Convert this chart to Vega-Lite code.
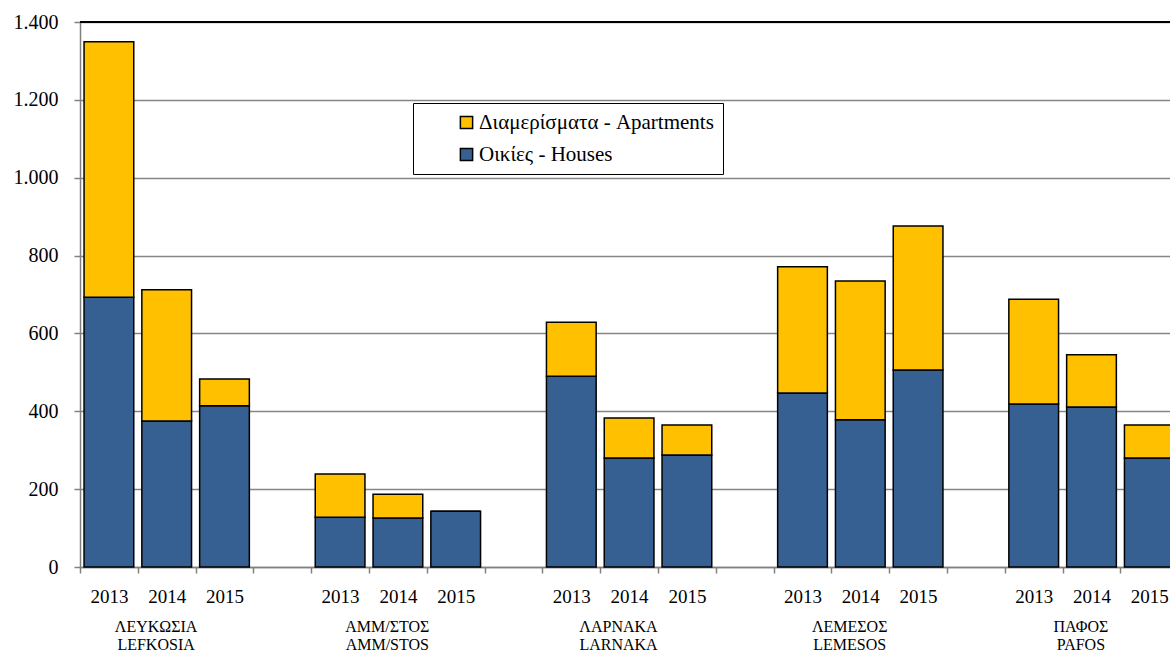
{
  "$schema": "https://vega.github.io/schema/vega-lite/v6.json",
  "autosize": {"type": "none"},
  "width": 1090,
  "height": 545,
  "padding": {"left": 80, "top": 22, "right": 0, "bottom": 83},
  "background": "white",
  "config": {
    "view": {"stroke": null},
    "font": "Liberation Serif"
  },
  "data": {
    "values": [
      {"slot": "LEF|2013", "district": "ΛΕΥΚΩΣΙΑ|LEFKOSIA", "type": "Οικίες - Houses", "ord": 1, "value": 693},
      {"slot": "LEF|2013", "district": "ΛΕΥΚΩΣΙΑ|LEFKOSIA", "type": "Διαμερίσματα - Apartments", "ord": 2, "value": 656},
      {"slot": "LEF|2014", "district": "ΛΕΥΚΩΣΙΑ|LEFKOSIA", "type": "Οικίες - Houses", "ord": 1, "value": 375},
      {"slot": "LEF|2014", "district": "ΛΕΥΚΩΣΙΑ|LEFKOSIA", "type": "Διαμερίσματα - Apartments", "ord": 2, "value": 337},
      {"slot": "LEF|2015", "district": "ΛΕΥΚΩΣΙΑ|LEFKOSIA", "type": "Οικίες - Houses", "ord": 1, "value": 414},
      {"slot": "LEF|2015", "district": "ΛΕΥΚΩΣΙΑ|LEFKOSIA", "type": "Διαμερίσματα - Apartments", "ord": 2, "value": 69},
      {"slot": "AMM|2013", "district": "ΑΜΜ/ΣΤΟΣ|AMM/STOS", "type": "Οικίες - Houses", "ord": 1, "value": 128},
      {"slot": "AMM|2013", "district": "ΑΜΜ/ΣΤΟΣ|AMM/STOS", "type": "Διαμερίσματα - Apartments", "ord": 2, "value": 111},
      {"slot": "AMM|2014", "district": "ΑΜΜ/ΣΤΟΣ|AMM/STOS", "type": "Οικίες - Houses", "ord": 1, "value": 126},
      {"slot": "AMM|2014", "district": "ΑΜΜ/ΣΤΟΣ|AMM/STOS", "type": "Διαμερίσματα - Apartments", "ord": 2, "value": 61},
      {"slot": "AMM|2015", "district": "ΑΜΜ/ΣΤΟΣ|AMM/STOS", "type": "Οικίες - Houses", "ord": 1, "value": 143},
      {"slot": "AMM|2015", "district": "ΑΜΜ/ΣΤΟΣ|AMM/STOS", "type": "Διαμερίσματα - Apartments", "ord": 2, "value": 0},
      {"slot": "LAR|2013", "district": "ΛΑΡΝΑΚΑ|LARNAKA", "type": "Οικίες - Houses", "ord": 1, "value": 490},
      {"slot": "LAR|2013", "district": "ΛΑΡΝΑΚΑ|LARNAKA", "type": "Διαμερίσματα - Apartments", "ord": 2, "value": 139},
      {"slot": "LAR|2014", "district": "ΛΑΡΝΑΚΑ|LARNAKA", "type": "Οικίες - Houses", "ord": 1, "value": 280},
      {"slot": "LAR|2014", "district": "ΛΑΡΝΑΚΑ|LARNAKA", "type": "Διαμερίσματα - Apartments", "ord": 2, "value": 103},
      {"slot": "LAR|2015", "district": "ΛΑΡΝΑΚΑ|LARNAKA", "type": "Οικίες - Houses", "ord": 1, "value": 288},
      {"slot": "LAR|2015", "district": "ΛΑΡΝΑΚΑ|LARNAKA", "type": "Διαμερίσματα - Apartments", "ord": 2, "value": 77},
      {"slot": "LEM|2013", "district": "ΛΕΜΕΣΟΣ|LEMESOS", "type": "Οικίες - Houses", "ord": 1, "value": 447},
      {"slot": "LEM|2013", "district": "ΛΕΜΕΣΟΣ|LEMESOS", "type": "Διαμερίσματα - Apartments", "ord": 2, "value": 324},
      {"slot": "LEM|2014", "district": "ΛΕΜΕΣΟΣ|LEMESOS", "type": "Οικίες - Houses", "ord": 1, "value": 378},
      {"slot": "LEM|2014", "district": "ΛΕΜΕΣΟΣ|LEMESOS", "type": "Διαμερίσματα - Apartments", "ord": 2, "value": 357},
      {"slot": "LEM|2015", "district": "ΛΕΜΕΣΟΣ|LEMESOS", "type": "Οικίες - Houses", "ord": 1, "value": 506},
      {"slot": "LEM|2015", "district": "ΛΕΜΕΣΟΣ|LEMESOS", "type": "Διαμερίσματα - Apartments", "ord": 2, "value": 370},
      {"slot": "PAF|2013", "district": "ΠΑΦΟΣ|PAFOS", "type": "Οικίες - Houses", "ord": 1, "value": 419},
      {"slot": "PAF|2013", "district": "ΠΑΦΟΣ|PAFOS", "type": "Διαμερίσματα - Apartments", "ord": 2, "value": 269},
      {"slot": "PAF|2014", "district": "ΠΑΦΟΣ|PAFOS", "type": "Οικίες - Houses", "ord": 1, "value": 411},
      {"slot": "PAF|2014", "district": "ΠΑΦΟΣ|PAFOS", "type": "Διαμερίσματα - Apartments", "ord": 2, "value": 134},
      {"slot": "PAF|2015", "district": "ΠΑΦΟΣ|PAFOS", "type": "Οικίες - Houses", "ord": 1, "value": 280},
      {"slot": "PAF|2015", "district": "ΠΑΦΟΣ|PAFOS", "type": "Διαμερίσματα - Apartments", "ord": 2, "value": 85}
    ]
  },
  "layer": [
    {
      "mark": {"type": "bar", "stroke": "black", "strokeWidth": 1.5},
      "encoding": {
        "x": {
          "field": "slot",
          "type": "nominal",
          "sort": null,
          "scale": {
            "domain": ["LEF|2013", "LEF|2014", "LEF|2015", "gap1", "AMM|2013", "AMM|2014", "AMM|2015", "gap2", "LAR|2013", "LAR|2014", "LAR|2015", "gap3", "LEM|2013", "LEM|2014", "LEM|2015", "gap4", "PAF|2013", "PAF|2014", "PAF|2015", "gap5"],
            "range": [0, 1156],
            "paddingInner": 0.14,
            "paddingOuter": 0.07
          },
          "axis": {
            "title": null,
            "labelExpr": "indexof(datum.value, 'gap') >= 0 ? '' : split(datum.value, '|')[1]",
            "labelAngle": 0,
            "labelFont": "Liberation Serif",
            "labelFontSize": 19,
            "labelColor": "black",
            "labelPadding": 14,
            "labelOffset": 29,
            "tickSize": 6,
            "tickColor": "#808080",
            "tickWidth": 1.5,
            "tickOffset": -29,
            "domainColor": "#808080",
            "domainWidth": 1.5,
            "grid": false
          }
        },
        "y": {
          "field": "value",
          "type": "quantitative",
          "stack": "zero",
          "scale": {"domain": [0, 1400]},
          "axis": {
            "title": null,
            "values": [0, 200, 400, 600, 800, 1000, 1200, 1400],
            "labelExpr": "replace(format(datum.value, ','), ',', '.')",
            "labelFont": "Liberation Serif",
            "labelFontSize": 20,
            "labelColor": "black",
            "labelPadding": 16,
            "tickSize": 6,
            "tickColor": "#808080",
            "tickWidth": 1.5,
            "domainColor": "#808080",
            "domainWidth": 1.5,
            "grid": true,
            "gridColor": "#868686",
            "gridWidth": 1.5
          }
        },
        "color": {
          "field": "type",
          "type": "nominal",
          "scale": {
            "domain": ["Διαμερίσματα - Apartments", "Οικίες - Houses"],
            "range": ["#FFC000", "#376092"]
          },
          "legend": {
            "title": null,
            "orient": "none",
            "legendX": 333,
            "legendY": 81,
            "fillColor": "white",
            "strokeColor": "black",
            "padding": 9,
            "symbolOffset": 34,
            "symbolType": "square",
            "symbolSize": 150,
            "symbolStrokeColor": "black",
            "symbolStrokeWidth": 1.5,
            "symbolOpacity": 1,
            "labelFont": "Liberation Serif",
            "labelExpr": "datum.label + '\u00a0\u00a0\u00a0\u00a0\u00a0'",
            "labelFontSize": 21,
            "labelColor": "black",
            "labelOffset": 2,
            "rowPadding": 10,
            "labelLimit": 400
          }
        },
        "order": {"field": "ord", "type": "quantitative", "sort": "ascending"}
      }
    },
    {
      "mark": {"type": "rule", "color": "black", "strokeWidth": 2},
      "encoding": {"y": {"datum": 1400, "type": "quantitative"}}
    },
    {
      "mark": {"type": "point", "opacity": 0},
      "encoding": {
        "x": {
          "field": "district",
          "type": "nominal",
          "sort": null,
          "scale": {
            "domain": ["ΛΕΥΚΩΣΙΑ|LEFKOSIA", "ΑΜΜ/ΣΤΟΣ|AMM/STOS", "ΛΑΡΝΑΚΑ|LARNAKA", "ΛΕΜΕΣΟΣ|LEMESOS", "ΠΑΦΟΣ|PAFOS"],
            "range": [0, 1156],
            "paddingInner": 0,
            "paddingOuter": 0
          },
          "axis": {
            "title": null,
            "orient": "bottom",
            "offset": 48,
            "labelExpr": "split(datum.value, '|')",
            "labelAngle": 0,
            "labelFont": "Liberation Serif",
            "labelFontSize": 16,
            "labelLineHeight": 18,
            "labelColor": "black",
            "labelOffset": -40,
            "labelPadding": 3,
            "ticks": false,
            "domain": false,
            "grid": false
          }
        }
      }
    }
  ],
  "resolve": {"scale": {"x": "independent"}, "axis": {"x": "independent"}}
}
